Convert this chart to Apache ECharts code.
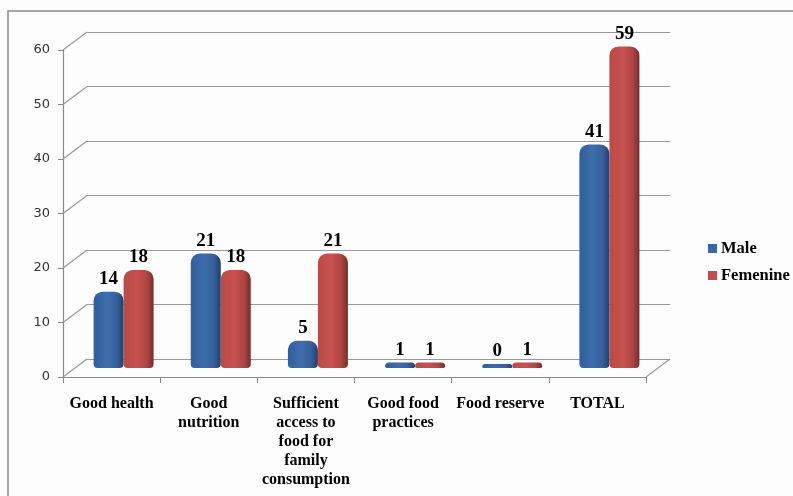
<!DOCTYPE html>
<html><head><meta charset="utf-8">
<script src="https://cdn.jsdelivr.net/npm/echarts@6/dist/echarts.min.js"></script>
<style>html,body{margin:0;padding:0;background:#fdfdfd}#c{width:793px;height:496px}</style>
</head><body><div id="c"></div>
<script>
const categories = ["Good health", "Good\nnutrition", "Sufficient\naccess to\nfood for\nfamily\nconsumption", "Good food\npractices", "Food reserve", "TOTAL"];
const maleValues = [14, 21, 5, 1, 0, 41];
const femenineValues = [18, 18, 21, 1, 1, 59];
const yTicks = [0, 10, 20, 30, 40, 50, 60];

const DX = 24, DY = 18;
const L = 63, T = 50, W = 583, H = 327;
const serif = '"Liberation Serif","Times New Roman",serif';

function grad(c0, c1, c2, c3) {
  return new echarts.graphic.LinearGradient(0, 0, 1, 0, [
    {offset: 0, color: c0}, {offset: 0.45, color: c1}, {offset: 0.78, color: c2}, {offset: 1, color: c3}
  ]);
}
const blueG = grad('#305f9c', '#3d6dab', '#35609a', '#203f6b');
const redG = grad('#b94a47', '#c8524f', '#ad4542', '#772c2a');

const chart = echarts.init(document.getElementById('c'));
chart.setOption({
  backgroundColor: '#fdfdfd',
  animation: false,
  graphic: [{type: 'rect', shape: {x: 8, y: 11, width: 800, height: 500}, style: {fill: 'none', stroke: '#8a8a8a', lineWidth: 1.5}, z: -10}],
  legend: {
    orient: 'vertical', left: 703, top: 235, itemWidth: 9, itemHeight: 9, itemGap: 10,
    icon: 'rect',
    textStyle: {fontFamily: serif, fontWeight: 'bold', fontSize: 16.5, color: '#000', padding: [0, 0, 0, -1]},
    data: [{name: 'Male', itemStyle: {color: '#3a68a6'}}, {name: 'Femenine', itemStyle: {color: '#c0504d'}}]
  },
  grid: [
    {left: L, top: T, width: W, height: H},
    {left: L + DX, top: T - DY, width: W, height: H},
    {left: L + DX / 2, top: T - DY / 2, width: W, height: H}
  ],
  xAxis: [
    {gridIndex: 0, type: 'category', data: categories, boundaryGap: true,
     axisLine: {show: true, lineStyle: {color: '#8a8a8a', width: 1.2}},
     axisTick: {show: true, length: 6, lineStyle: {color: '#8a8a8a'}},
     axisLabel: {interval: 0, margin: 17, color: '#000', fontFamily: serif, fontWeight: 'bold', fontSize: 16, lineHeight: 19}},
    {gridIndex: 1, type: 'category', data: categories, show: false},
    {gridIndex: 2, type: 'category', data: categories, show: false}
  ],
  yAxis: [
    {gridIndex: 0, type: 'value', min: 0, max: 60, interval: 10,
     axisLine: {show: true, lineStyle: {color: '#8a8a8a', width: 1.2}},
     axisTick: {show: true, length: 5, lineStyle: {color: '#8a8a8a'}},
     splitLine: {show: false},
     axisLabel: {margin: 13, color: '#333', fontFamily: '"DejaVu Sans",Verdana,sans-serif', fontSize: 13}},
    {gridIndex: 1, type: 'value', min: 0, max: 60, interval: 10,
     axisLine: {show: false}, axisTick: {show: false}, axisLabel: {show: false},
     splitLine: {show: true, lineStyle: {color: '#999', width: 1.2}}},
    {gridIndex: 2, type: 'value', min: 0, max: 60, interval: 10, show: false}
  ],
  series: [
    {type: 'custom', xAxisIndex: 0, yAxisIndex: 0, silent: true, z: 1,
     data: yTicks.map(v => [0, v]),
     renderItem: function (params, api) {
       const v = api.value(1);
       const y = api.coord([0, v])[1];
       const cs = params.coordSys;
       const children = [{type: 'line', shape: {x1: cs.x, y1: y, x2: cs.x + DX, y2: y - DY}, style: {stroke: '#999', lineWidth: 1.2}}];
       if (v === 0) {
         children.push({type: 'line', shape: {x1: cs.x + cs.width, y1: y, x2: cs.x + cs.width + DX, y2: y - DY}, style: {stroke: '#999', lineWidth: 1.2}});
       }
       return {type: 'group', children: children};
     }},
    {name: 'Male', type: 'bar', xAxisIndex: 2, yAxisIndex: 2, barWidth: 30, barGap: '0%', barMinHeight: 4, z: 3,
     data: maleValues,
     itemStyle: {color: blueG, borderRadius: [9, 9, 4, 4]},
     label: {show: true, position: 'top', distance: 3, color: '#000', fontFamily: serif, fontWeight: 'bold', fontSize: 19}},
    {name: 'Femenine', type: 'bar', xAxisIndex: 2, yAxisIndex: 2, barWidth: 30, barGap: '0%', barMinHeight: 4, z: 3,
     data: femenineValues,
     itemStyle: {color: redG, borderRadius: [9, 9, 4, 4]},
     label: {show: true, position: 'top', distance: 3, color: '#000', fontFamily: serif, fontWeight: 'bold', fontSize: 19}}
  ]
});
</script></body></html>
